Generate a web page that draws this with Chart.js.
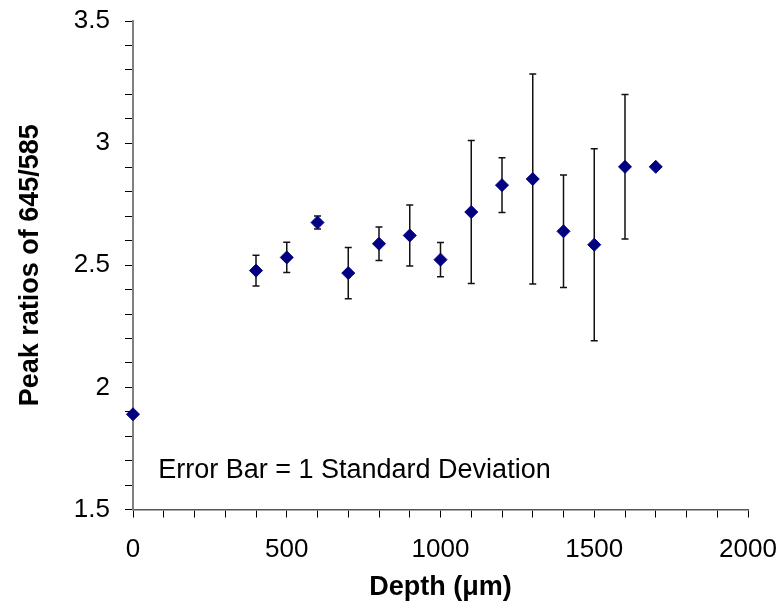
<!DOCTYPE html>
<html>
<head>
<meta charset="utf-8">
<script src="https://cdn.jsdelivr.net/npm/chart.js@4"></script>
<style>
  html, body { margin: 0; padding: 0; background: #fff; }
  #wrap { width: 782px; height: 607px; }
</style>
</head>
<body>
<div id="wrap"><canvas id="c" width="782" height="607"></canvas></div>
<script>
const depths = [0, 400, 500, 600, 700, 800, 900, 1000, 1100, 1200, 1300, 1400, 1500, 1600, 1700];
const peakRatios = [1.89, 2.478, 2.532, 2.675, 2.468, 2.588, 2.622, 2.523, 2.718, 2.828, 2.853, 2.639, 2.584, 2.903, 2.903];
const stdDevs = [0, 0.063, 0.062, 0.027, 0.105, 0.069, 0.125, 0.070, 0.293, 0.112, 0.430, 0.230, 0.393, 0.296, 0];
const xTickLabels = ['0', '500', '1000', '1500', '2000'];
const yTickLabels = ['1.5', '2', '2.5', '3', '3.5'];
const annotationText = 'Error Bar = 1 Standard Deviation';
const annotationAt = { x: 82, y: 1.630 };

const FONT = "'Liberation Sans', Arial, sans-serif";

const errorBars = {
  id: 'errorBars',
  beforeDatasetsDraw(chart) {
    const ctx = chart.ctx;
    const xs = chart.scales.x, ys = chart.scales.y;
    ctx.save();
    ctx.strokeStyle = '#111';
    ctx.lineWidth = 1.5;
    depths.forEach((d, i) => {
      const sd = stdDevs[i];
      if (!sd) return;
      const px = xs.getPixelForValue(d);
      const top = ys.getPixelForValue(peakRatios[i] + sd);
      const bot = ys.getPixelForValue(peakRatios[i] - sd);
      ctx.beginPath();
      ctx.moveTo(px, top); ctx.lineTo(px, bot);
      ctx.moveTo(px - 3.5, top); ctx.lineTo(px + 3.5, top);
      ctx.moveTo(px - 3.5, bot); ctx.lineTo(px + 3.5, bot);
      ctx.stroke();
    });
    ctx.restore();
  },
  afterDatasetsDraw(chart) {
    const ctx = chart.ctx;
    const xs = chart.scales.x, ys = chart.scales.y;
    ctx.save();
    ctx.fillStyle = '#000';
    ctx.font = '27px ' + FONT;
    ctx.textAlign = 'left';
    ctx.textBaseline = 'alphabetic';
    ctx.fillText(annotationText, xs.getPixelForValue(annotationAt.x), ys.getPixelForValue(annotationAt.y));
    ctx.restore();
  }
};

new Chart(document.getElementById('c'), {
  type: 'scatter',
  data: {
    datasets: [{
      data: depths.map((d, i) => ({ x: d, y: peakRatios[i] })),
      pointStyle: 'rectRot',
      pointRadius: 6.5,
      pointHoverRadius: 6.5,
      backgroundColor: '#000080',
      borderColor: '#000080',
      borderWidth: 1,
      clip: false
    }]
  },
  options: {
    responsive: false,
    animation: false,
    events: [],
    layout: { padding: { top: 21, right: 34, left: 0, bottom: 0 } },
    plugins: { legend: { display: false }, tooltip: { enabled: false } },
    scales: {
      x: {
        type: 'linear',
        min: 0, max: 2000,
        afterFit(scale) { scale.height = 97.5; scale.paddingLeft = 0; scale.paddingRight = 0; },
        border: { color: '#555', width: 1.5 },
        grid: { drawOnChartArea: false, drawTicks: true, tickLength: 8, tickColor: '#000', tickWidth: 1 },
        ticks: {
          stepSize: 100,
          autoSkip: false,
          maxRotation: 0,
          padding: 17,
          color: '#000',
          font: { family: FONT, size: 26 },
          callback(v) {
            const idx = xTickLabels.indexOf(String(Math.round(v)));
            return idx >= 0 ? xTickLabels[idx] : '';
          }
        },
        title: {
          display: true,
          text: 'Depth (μm)',
          color: '#000',
          font: { family: FONT, size: 27, weight: 'bold' },
          padding: { top: 0, bottom: 3 }
        }
      },
      y: {
        type: 'linear',
        min: 1.5, max: 3.5,
        afterFit(scale) { scale.width = 133; scale.paddingTop = 0; scale.paddingBottom = 0; },
        border: { color: '#808080', width: 2 },
        grid: { drawOnChartArea: false, drawTicks: true, tickLength: 8, tickColor: '#000', tickWidth: 1 },
        ticks: {
          stepSize: 0.1,
          autoSkip: false,
          padding: 15,
          color: '#000',
          font: { family: FONT, size: 26 },
          callback(v) {
            const s = String(Math.round(v * 10) / 10);
            const idx = yTickLabels.indexOf(s);
            return idx >= 0 ? yTickLabels[idx] : '';
          }
        },
        title: {
          display: true,
          text: 'Peak ratios of 645/585',
          color: '#000',
          font: { family: FONT, size: 27, weight: 'bold' },
          padding: { top: 14, bottom: 0 }
        }
      }
    }
  },
  plugins: [errorBars]
});
</script>
</body>
</html>
